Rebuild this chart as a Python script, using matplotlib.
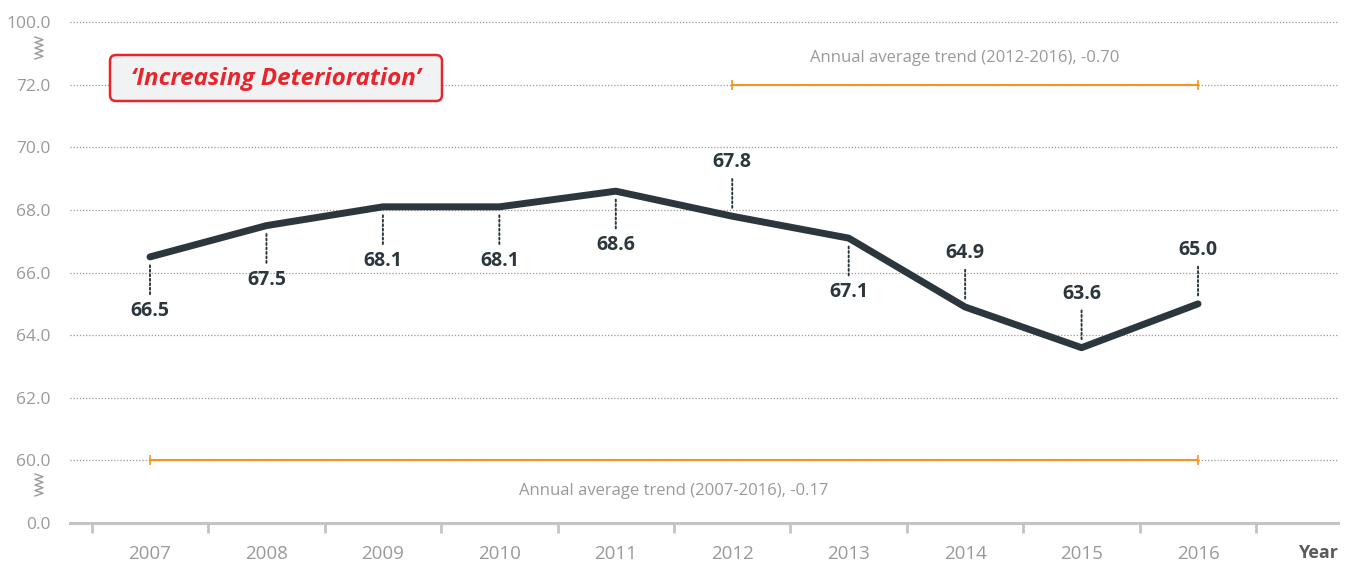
import matplotlib.pyplot as plt
from matplotlib.lines import Line2D
from matplotlib.patches import FancyBboxPatch

plt.rcParams['font.family'] = ['Open Sans', 'DejaVu Sans']

years = [2007, 2008, 2009, 2010, 2011, 2012, 2013, 2014, 2015, 2016]
scores = [66.5, 67.5, 68.1, 68.1, 68.6, 67.8, 67.1, 64.9, 63.6, 65.0]
label_side = [-1, -1, -1, -1, -1, 1, -1, 1, 1, 1]   # -1 below, 1 above

# broken y axis: 0 and 100 are drawn one step outside the 60-72 range
ytick_pos = [58, 60, 62, 64, 66, 68, 70, 72, 74]
ytick_labels = ['0.0', '60.0', '62.0', '64.0', '66.0', '68.0', '70.0', '72.0', '100.0']

trend_starts = [2012, 2007]
trend_ends = [2016, 2016]
trend_values = [-0.70, -0.17]
trend_levels = [72, 60]

dark = '#2b373d'
grey = '#9a9a9a'
orange = '#f7941d'
red = '#e8252b'

W, H = 1354, 565
fig = plt.figure(figsize=(W / 100, H / 100), dpi=100)
ax = fig.add_axes([70 / W, 42 / H, 1268 / W, 504 / H])

ax.set_xlim(2006.313, 2017.202)
ax.set_ylim(58, 74.1)

# grid lines
for y in ytick_pos[1:]:
    ax.axhline(y, color=grey, lw=0.9, ls=(0, (1, 1.5)), zorder=0)

# trend lines
for s, e, v, lvl in zip(trend_starts, trend_ends, trend_values, trend_levels):
    ax.plot([s, e], [lvl, lvl], color=orange, lw=1.5, marker='|', ms=7, mew=1.2, zorder=2)
    txt = 'Annual average trend (%d-%d), %.2f' % (s, e, v)
    dy = 0.86 if lvl == 72 else -0.98
    ax.text((s + e) / 2, lvl + dy, txt, ha='center', va='center', color=grey, fontsize=12)

# main line
ax.plot(years, scores, color=dark, lw=5, solid_capstyle='round', solid_joinstyle='round', zorder=3)

# value labels with dotted leaders
for x, y, side in zip(years, scores, label_side):
    ax.annotate('%.1f' % y, xy=(x, y), xytext=(0, 39 * side), textcoords='offset points',
                ha='center', va='center', fontsize=14, fontweight='bold', color=dark,
                arrowprops=dict(arrowstyle='-', color=dark, lw=1.4, ls=(0, (1, 1.3)),
                                shrinkA=3, shrinkB=6))

# axes styling
for sp in ['top', 'right', 'left']:
    ax.spines[sp].set_visible(False)
ax.spines['bottom'].set_color('#c4c4c4')
ax.spines['bottom'].set_linewidth(2.2)

ax.set_yticks(ytick_pos)
ax.set_yticklabels(ytick_labels)
ax.tick_params(axis='y', length=0, pad=14, labelsize=12.5, labelcolor=grey)

ax.set_xticks(years)
ax.set_xticklabels([str(y) for y in years])
ax.set_xticks([y - 0.5 for y in years] + [2016.5], minor=True)
ax.tick_params(axis='x', which='major', length=0, pad=16, labelsize=13.5, labelcolor=grey)
ax.tick_params(axis='x', which='minor', length=7, width=2, color='#c4c4c4', direction='out')

ax.text(1318 / W, 12 / H, 'Year', transform=fig.transFigure, ha='center', va='center',
        fontsize=13, fontweight='bold', color='#5a5a5a')

# title box
box = FancyBboxPatch((110, H - 101), 332, 46, boxstyle='round,pad=0,rounding_size=6',
                     transform=None, fc='#f1f2f4', ec=red, lw=1.8, zorder=5)
fig.add_artist(box)
fig.text(276 / W, 1 - 79 / H, '\u2018Increasing Deterioration\u2019', ha='center', va='center',
         fontsize=17.5, fontweight='bold', fontstyle='italic', color=red, zorder=6)

# axis break markers
def zigzag(yc):
    xs, ys = [], []
    n = 8
    for i in range(n + 1):
        xs.append((39 + (4 if i % 2 else -4)) / W)
        ys.append(1 - (yc - 11 + 22 * i / n) / H)
    fig.add_artist(Line2D(xs, ys, color=grey, lw=1.0))

zigzag(48)
zigzag(485)

fig.savefig('out.png', dpi=100)
